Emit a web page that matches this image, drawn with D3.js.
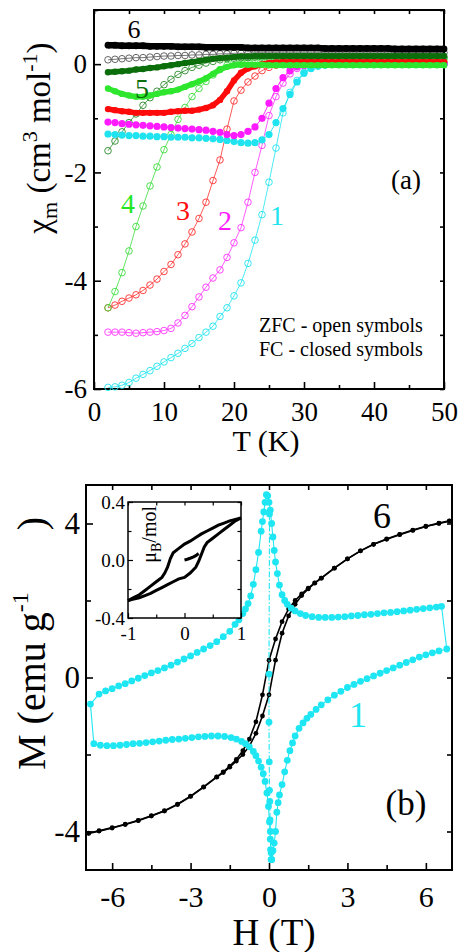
<!DOCTYPE html>
<html>
<head>
<meta charset="utf-8">
<script src="https://cdn.jsdelivr.net/npm/d3@7"></script>
<style>
  body { margin: 0; background: #fff; }
  text { font-family: "Liberation Serif", "Times New Roman", serif; }
</style>
</head>
<body>
<div class="canvas"></div>
<script>
// ---------- panel (a): chi_m vs T, ZFC (open) and FC (closed) ----------
const tempK = [2,3,4,5,6,7,8,9,10,11,12,13,14,15,16,17,18,19,20,21,22,23,24,25,26,27,28,29,30,
               31,32,33,34,35,36,37,38,39,40,41,42,43,44,45,46,47,48,49,50];

const fc6  = [0.35,0.35,0.34,0.34,0.34,0.34,0.33,0.33,0.33, 0.33,0.32,0.32,0.32,0.32,0.31,0.31,0.31,0.31,0.31,
              0.31,0.30,0.30,0.30,0.30,0.30,0.30,0.30,0.30,0.30, 0.30,0.30,0.29,0.29,0.29,0.29,0.29,0.29,0.29,0.29,
              0.29,0.29,0.28,0.28,0.28,0.28,0.28,0.28,0.28,0.28];
const zfc6 = [0.08,0.09,0.10,0.11,0.12,0.12,0.13,0.14,0.15, 0.15,0.16,0.16,0.17,0.17,0.18,0.18,0.19,0.19,0.20,
              0.20,0.20,0.21,0.21,0.21,0.21,0.21,0.21,0.21,0.21, 0.21,0.21,0.21,0.21,0.21,0.21,0.21,0.21,0.21,0.21,
              0.21,0.21,0.21,0.21,0.21,0.21,0.21,0.21,0.21,0.21];
const fc5  = [-0.15,-0.14,-0.13,-0.12,-0.10,-0.09,-0.07,-0.06,-0.04, -0.02,0.00,0.02,0.04,0.06,0.08,0.10,0.11,0.12,0.13,
              0.14,0.14,0.15,0.15,0.15,0.15,0.15,0.15,0.15,0.15, 0.15,0.15,0.15,0.15,0.15,0.15,0.15,0.15,0.15,0.15,
              0.15,0.15,0.15,0.15,0.15,0.15,0.15,0.15,0.15,0.15];
const zfc5 = [-1.60,-1.42,-1.25,-1.08,-0.92,-0.76,-0.62,-0.50,-0.38, -0.28,-0.19,-0.12,-0.06,-0.02,0.02,0.05,0.08,0.10,0.11,
              0.12,0.12,0.13,0.13,0.13,0.13,0.13,0.13,0.13,0.13, 0.13,0.13,0.13,0.13,0.13,0.13,0.13,0.13,0.13,0.13,
              0.13,0.13,0.13,0.13,0.13,0.13,0.13,0.13,0.13,0.13];
const fc4  = [-0.45,-0.50,-0.55,-0.58,-0.60,-0.60,-0.58,-0.55,-0.52, -0.50,-0.47,-0.42,-0.37,-0.32,-0.26,-0.18,-0.10,-0.05,-0.02,
              -0.01,-0.01,-0.01,-0.01,-0.02,-0.02,-0.02,-0.02,-0.02,-0.02, -0.02,-0.02,-0.02,-0.02,-0.02,-0.02,-0.02,-0.02,-0.02,-0.02,
              -0.02,-0.02,-0.02,-0.02,-0.02,-0.02,-0.02,-0.02,-0.02,-0.02];
const zfc4 = [-4.50,-4.20,-3.85,-3.45,-3.00,-2.62,-2.25,-1.90,-1.58, -1.30,-1.02,-0.80,-0.60,-0.45,-0.32,-0.20,-0.10,-0.02,0.03,
              0.05,0.07,0.08,0.09,0.10,0.10,0.10,0.10,0.10,0.10, 0.10,0.10,0.10,0.10,0.10,0.10,0.10,0.10,0.10,0.10,
              0.10,0.10,0.10,0.10,0.10,0.10,0.10,0.10,0.10,0.10];
const fc3  = [-0.83,-0.85,-0.87,-0.88,-0.90,-0.90,-0.90,-0.90,-0.90, -0.88,-0.87,-0.86,-0.86,-0.84,-0.81,-0.76,-0.66,-0.50,-0.30,
              -0.16,-0.08,-0.04,0.00,0.02,0.03,0.04,0.04,0.04,0.04, 0.04,0.04,0.04,0.04,0.04,0.04,0.04,0.04,0.04,0.04,
              0.04,0.04,0.04,0.04,0.04,0.04,0.04,0.04,0.04,0.04];
const zfc3 = [-4.50,-4.45,-4.38,-4.32,-4.26,-4.18,-4.08,-3.97,-3.83, -3.70,-3.52,-3.32,-3.10,-2.85,-2.55,-2.15,-1.77,-1.20,-0.68,
              -0.48,-0.33,-0.22,-0.12,-0.06,-0.02,0.01,0.03,0.04,0.04, 0.04,0.04,0.04,0.04,0.04,0.04,0.04,0.04,0.04,0.04,
              0.04,0.04,0.04,0.04,0.04,0.04,0.04,0.04,0.04,0.04];
const fc2  = [-1.07,-1.08,-1.10,-1.11,-1.12,-1.13,-1.14,-1.15,-1.16, -1.17,-1.18,-1.19,-1.20,-1.21,-1.22,-1.24,-1.26,-1.30,-1.32,
              -1.30,-1.24,-1.16,-1.00,-0.72,-0.45,-0.25,-0.12,-0.05,-0.02, 0.00,0.00,0.00,0.00,0.00,0.00,0.00,0.00,0.00,0.00,
              0.00,0.00,0.00,0.00,0.00,0.00,0.00,0.00,0.00,0.00];
const zfc2 = [-4.95,-4.95,-4.95,-4.96,-4.97,-4.96,-4.95,-4.94,-4.92, -4.88,-4.78,-4.64,-4.48,-4.30,-4.12,-3.95,-3.80,-3.57,-3.30,
              -3.02,-2.55,-2.00,-1.50,-0.95,-0.60,-0.35,-0.18,-0.08,-0.03, 0.00,0.01,0.02,0.02,0.02,0.02,0.02,0.02,0.02,0.02,
              0.02,0.02,0.02,0.02,0.02,0.02,0.02,0.02,0.02,0.02];
const fc1  = [-1.29,-1.30,-1.31,-1.32,-1.32,-1.33,-1.33,-1.34,-1.34, -1.35,-1.35,-1.35,-1.36,-1.36,-1.37,-1.38,-1.39,-1.41,-1.43,
              -1.45,-1.46,-1.45,-1.40,-1.30,-1.08,-0.82,-0.56,-0.33,-0.17, -0.08,-0.03,-0.01,0.00,0.00,0.00,0.00,0.00,0.00,0.00,
              0.00,0.00,0.00,0.00,0.00,0.00,0.00,0.00,0.00,0.00];
const zfc1 = [-5.97,-5.96,-5.93,-5.88,-5.80,-5.73,-5.66,-5.58,-5.50, -5.42,-5.34,-5.25,-5.16,-5.05,-4.95,-4.84,-4.66,-4.50,-4.28,
              -4.04,-3.68,-3.25,-2.78,-2.18,-1.55,-0.90,-0.52,-0.30,-0.15, -0.08,-0.04,-0.02,0.00,0.00,0.00,0.00,0.00,0.00,0.00,
              0.00,0.00,0.00,0.00,0.00,0.00,0.00,0.00,0.00,0.00];

const tTicks = [0,10,20,30,40,50];
const tMinor = [5,15,25,35,45];
const chiTicks = [-6,-4,-2,0];
const chiMinor = [-5,-3,-1,1];

// ---------- panel (b): M vs H loops ----------
const field6 = [-6.9,-6.5,-6,-5.5,-5,-4.5,-4,-3.5,-3,-2.5,-2,-1.75,-1.5,-1.25,-1,-0.75,-0.5,-0.25,0,
                0.25,0.5,0.75,1,1.25,1.5,1.75,2,2.5,3,3.5,4,4.5,5,5.5,6,6.5,6.9];
const m6Down = [-4.04,-3.98,-3.90,-3.81,-3.71,-3.59,-3.46,-3.29,-3.08,-2.84,-2.58,-2.45,-2.30,-2.13,-1.90,-1.60,-1.15,-0.45,0.45,
                1.00,1.45,1.78,2.00,2.17,2.32,2.46,2.58,2.84,3.08,3.29,3.46,3.60,3.72,3.83,3.93,4.01,4.07];
const m6Up   = [-4.05,-3.99,-3.91,-3.82,-3.72,-3.60,-3.47,-3.30,-3.09,-2.85,-2.59,-2.47,-2.33,-2.17,-2.00,-1.78,-1.45,-1.00,-0.45,
                0.45,1.15,1.60,1.90,2.13,2.30,2.45,2.58,2.84,3.08,3.29,3.46,3.59,3.71,3.82,3.92,4.00,4.06];

const hUpR = [0.1,0.15,0.2,0.25,0.3,0.35,0.4,0.5,0.6,0.7,0.8,0.9,1.0,1.15,1.3,1.45,1.6,1.8,
              2.0,2.25,2.5,2.75,3.0,3.25,3.5,3.75,4.0,4.25,4.5,4.75,5.0,5.25,5.5,5.75,6.0,6.25,6.5,6.8];
const mUpR = [-4.73,-4.50,-4.30,-4.00,-3.50,-3.25,-3.05,-2.78,-2.45,-2.15,-1.90,-1.70,-1.52,-1.32,-1.18,-1.06,-0.96,-0.83,
              -0.71,-0.58,-0.46,-0.36,-0.26,-0.18,-0.10,-0.03,0.04,0.11,0.18,0.25,0.32,0.39,0.46,0.53,0.59,0.64,0.69,0.74];
const hDownR = [6.6,6.4,6.15,5.9,5.65,5.4,5.15,4.9,4.65,4.4,4.15,3.9,3.65,3.4,3.15,2.9,2.65,2.4,2.15,1.9,1.65,1.4,
                1.2,1.0,0.85,0.7,0.6,0.5,0.4,0.32,0.25,0.2,0.15,0.1,0.05,0.0,-0.05];
const mDownR = [1.85,1.83,1.81,1.79,1.77,1.75,1.73,1.71,1.69,1.68,1.66,1.64,1.63,1.61,1.60,1.58,1.57,1.56,1.56,1.56,1.58,1.61,
                1.66,1.73,1.80,1.90,2.00,2.15,2.40,2.70,3.00,3.30,3.65,4.00,4.35,4.55,4.72];
const hDownL = [-0.1,-0.15,-0.2,-0.25,-0.3,-0.4,-0.5,-0.6,-0.7,-0.8,-0.9,-1.0,-1.15,-1.3,-1.5,
                -1.75,-2.0,-2.25,-2.5,-2.75,-3.0,-3.25,-3.5,-3.75,-4.0,-4.25,-4.5,-4.75,-5.0,-5.25,-5.5,-5.75,-6.0,-6.25,-6.5,-6.83];
const mDownL = [4.75,4.55,4.30,4.05,3.80,3.25,2.80,2.42,2.12,1.92,1.78,1.66,1.50,1.38,1.20,
                1.06,0.93,0.83,0.74,0.65,0.56,0.48,0.40,0.32,0.25,0.18,0.12,0.05,-0.02,-0.09,-0.16,-0.22,-0.29,-0.35,-0.43,-0.69];
const hUpL = [-6.7,-6.45,-6.2,-5.95,-5.7,-5.45,-5.2,-4.95,-4.7,-4.45,-4.2,-3.95,-3.7,-3.45,-3.2,-2.95,-2.7,-2.45,-2.2,-1.95,-1.7,-1.45,
              -1.25,-1.05,-0.9,-0.75,-0.6,-0.5,-0.4,-0.3,-0.22,-0.15,-0.08,-0.02,0.02,0.05,0.08];
const mUpL = [-1.72,-1.76,-1.77,-1.77,-1.76,-1.74,-1.72,-1.71,-1.69,-1.67,-1.65,-1.63,-1.61,-1.60,-1.58,-1.56,-1.54,-1.53,-1.52,-1.52,-1.53,-1.56,
              -1.60,-1.66,-1.72,-1.80,-1.92,-2.03,-2.17,-2.33,-2.50,-2.70,-3.00,-3.35,-3.75,-4.20,-4.55];
const hZero = [0.02,0.0,0.0,0.01,0.02,0.03,0.04,0.05,0.06,0.08];
const mZero = [4.25,0.09,-1.16,-2.19,-2.93,-3.22,-3.70,-4.00,-4.47,-4.73];

const hTicks = [-6,-3,0,3,6];
const hMinor = [-4.5,-1.5,1.5,4.5];
const mTicks = [-4,0,4];
const mMinor = [-2,2];

// inset: muB/mol vs H
const insetHDown = [1.0,0.9,0.8,0.7,0.6,0.5,0.4,0.3,0.2,0.1,0.0,-0.1,-0.2,-0.25,-0.3,-0.35,-0.4,-0.5,-0.6,-0.7,-0.8,-0.9,-1.0];
const insetMDown = [0.29,0.28,0.27,0.255,0.24,0.22,0.20,0.18,0.155,0.13,0.11,0.08,0.05,0.01,-0.05,-0.09,-0.12,-0.15,-0.18,-0.21,-0.24,-0.26,-0.28];
const insetHUp   = [-1.0,-0.9,-0.8,-0.7,-0.6,-0.5,-0.4,-0.3,-0.2,-0.1,0.0,0.1,0.2,0.25,0.3,0.35,0.4,0.5,0.6,0.7,0.8,0.9,1.0];
const insetMUp   = [-0.28,-0.27,-0.26,-0.245,-0.23,-0.21,-0.19,-0.17,-0.15,-0.13,-0.12,-0.09,-0.05,-0.01,0.04,0.09,0.12,0.15,0.18,0.21,0.24,0.27,0.29];
const insetHVirgin = [0,0.05,0.1,0.15,0.2,0.25];
const insetMVirgin = [0,0.005,0.012,0.02,0.03,0.045];

const insetHTicks = [-1,0,1];
const insetHMinor = [-0.5,0.5];
const insetMTicks = [-0.4,0,0.4];
const insetMMinor = [-0.2,0.2];

// ---------- drawing ----------
const svg = d3.select('.canvas').append('svg')
    .attr('width', 463)
    .attr('height', 952)

const pair = (xs, ys) => xs.map((d, i) => ({x: d, y: ys[i]}))

function drawFrame(x, y, o) {
    const g = svg.append('g')
    const [x0, x1] = x.range()
    const [y0, y1] = y.range()
    if (o.fill) {
        g.append('rect').attr('x', x0).attr('y', y1)
            .attr('width', x1 - x0).attr('height', y0 - y1).attr('fill', '#fff')
    }
    g.append('g').attr('transform', `translate(0,${y0})`)
        .call(d3.axisBottom(x).tickValues(o.xMajor).tickSize(-o.tick).tickPadding(o.xPad).tickFormat(o.xFmt))
        .selectAll('text').attr('font-size', o.xFs)
    g.append('g').attr('transform', `translate(0,${y0})`)
        .call(d3.axisBottom(x).tickValues(o.xMinor).tickSize(-o.minor).tickFormat(''))
    g.append('g').attr('transform', `translate(0,${y1})`)
        .call(d3.axisTop(x).tickValues(o.xMajor.concat(o.xMinor)).tickSize(-o.minor).tickFormat(''))
    g.append('g').attr('transform', `translate(${x0},0)`)
        .call(d3.axisLeft(y).tickValues(o.yMajor).tickSize(-o.tick).tickPadding(o.yPad).tickFormat(o.yFmt))
        .selectAll('text').attr('font-size', o.yFs)
    g.append('g').attr('transform', `translate(${x0},0)`)
        .call(d3.axisLeft(y).tickValues(o.yMinor).tickSize(-o.minor).tickFormat(''))
    g.append('g').attr('transform', `translate(${x1},0)`)
        .call(d3.axisRight(y).tickValues(o.yMajor.concat(o.yMinor)).tickSize(-o.minor).tickFormat(''))
    g.selectAll('.domain').remove()
    g.selectAll('.tick line').attr('stroke', '#000').attr('stroke-width', o.tw)
    g.selectAll('text').attr('font-family', '"Liberation Serif", serif').attr('fill', '#000')
    g.append('rect').attr('x', x0).attr('y', y1)
        .attr('width', x1 - x0).attr('height', y0 - y1)
        .attr('fill', 'none').attr('stroke', '#000').attr('stroke-width', o.sw)
    return g
}

function drawSeries(x, y, pts, s) {
    const line = d3.line().x(d => x(d.x)).y(d => y(d.y))
    svg.append('path').datum(pts)
        .attr('d', line)
        .attr('fill', 'none')
        .attr('stroke', s.color)
        .attr('stroke-width', s.lw)
        .attr('stroke-dasharray', s.dash || null)
    if (s.r) {
        svg.append('g').selectAll('circle')
            .data(pts)
            .enter()
                .append('circle')
                .attr('cx', d => x(d.x))
                .attr('cy', d => y(d.y))
                .attr('r', s.r)
                .attr('fill', s.open ? 'none' : s.color)
                .attr('stroke', s.color)
                .attr('stroke-width', s.open ? 0.9 : 0)
    }
}

function label(xp, yp, txt, size, color, anchor) {
    svg.append('text').attr('x', xp).attr('y', yp)
        .attr('font-size', size).attr('fill', color || '#000')
        .attr('text-anchor', anchor || 'middle')
        .text(txt)
}

// ----- (a) -----
const xA = d3.scaleLinear().domain([0, 50]).range([94, 444])
const yA = d3.scaleLinear().domain([-6, 1]).range([389, 10])

drawFrame(xA, yA, {
    xMajor: tTicks, xMinor: tMinor, yMajor: chiTicks, yMinor: chiMinor,
    tick: 7, minor: 4, xPad: 13, yPad: 7, xFs: 27, yFs: 27, tw: 1.6, sw: 2,
    xFmt: d => String(d), yFmt: d => String(d)
})

const seriesA = [
    {vals: zfc1, color: '#1fe3ef', open: true,  r: 3.3, lw: 0.8},
    {vals: zfc2, color: '#ff33ff', open: true,  r: 3.3, lw: 0.8},
    {vals: zfc3, color: '#ff3030', open: true,  r: 3.3, lw: 0.8},
    {vals: zfc4, color: '#3cdc3c', open: true,  r: 3.3, lw: 0.8},
    {vals: zfc5, color: '#2a8a2a', open: true,  r: 3.3, lw: 0.8},
    {vals: zfc6, color: '#555555', open: true,  r: 3.3, lw: 0.8},
    {vals: fc1,  color: '#1fe3ef', open: false, r: 3.6, lw: 0.9},
    {vals: fc2,  color: '#ff1aff', open: false, r: 3.6, lw: 0.9},
    {vals: fc3,  color: '#ff0a0a', open: false, r: 3.2, lw: 5.5},
    {vals: fc4,  color: '#2ee62e', open: false, r: 3.2, lw: 5.5},
    {vals: fc5,  color: '#0b6e0b', open: false, r: 3.2, lw: 5.5},
    {vals: fc6,  color: '#000000', open: false, r: 3.4, lw: 6.5}
]
seriesA.forEach(s => drawSeries(xA, yA, pair(tempK, s.vals), s))

label(134, 38, '6', 26)
label(142, 98, '5', 28, '#0b6e0b')
label(128, 213, '4', 28, '#22e622')
label(183, 220, '3', 28, '#ff0a0a')
label(225, 230, '2', 28, '#ff1aff')
label(277, 225, '1', 28, '#1fe3ef')
label(406, 189, '(a)', 27)
label(259, 332, 'ZFC - open symbols', 20, '#000', 'start')
label(259, 356, 'FC - closed symbols', 20, '#000', 'start')
label(266, 451, 'T (K)', 30)

const yTitleA = svg.append('text')
    .attr('transform', 'translate(50,138) rotate(-90)')
    .attr('text-anchor', 'middle').attr('font-size', 33)
yTitleA.append('tspan').text('χ')
yTitleA.append('tspan').attr('font-size', 22).attr('dy', 7).text('m')
yTitleA.append('tspan').attr('dy', -7).text(' (cm')
yTitleA.append('tspan').attr('font-size', 22).attr('dy', -13).text('3')
yTitleA.append('tspan').attr('dy', 13).text(' mol')
yTitleA.append('tspan').attr('font-size', 22).attr('dy', -13).text('-1')
yTitleA.append('tspan').attr('dy', 13).text(')')

// ----- (b) -----
const xB = d3.scaleLinear().domain([-7, 7]).range([86, 452])
const yB = d3.scaleLinear().domain([-5, 5]).range([870, 485])

drawFrame(xB, yB, {
    xMajor: hTicks, xMinor: hMinor, yMajor: mTicks, yMinor: mMinor,
    tick: 7, minor: 5, xPad: 16, yPad: 6, xFs: 30, yFs: 31, tw: 1.6, sw: 2,
    xFmt: d => String(d), yFmt: d => String(d)
})

const cyan = '#1ee6f2'
drawSeries(xB, yB, pair(field6, m6Down), {color: '#000', r: 2.4, lw: 1.6})
drawSeries(xB, yB, pair(field6, m6Up), {color: '#000', r: 2.4, lw: 1.6})
const cyanLoop = pair(hUpR, mUpR).concat(pair(hDownR, mDownR), pair(hDownL, mDownL), pair(hUpL, mUpL), pair(hUpR.slice(0, 1), mUpR.slice(0, 1)))
drawSeries(xB, yB, cyanLoop, {color: cyan, r: 3.4, lw: 1.1})
drawSeries(xB, yB, pair(hZero, mZero), {color: cyan, r: 3.4, lw: 1.1, dash: '6,2,1.5,2'})

// inset
const xI = d3.scaleLinear().domain([-1, 1]).range([128, 241])
const yI = d3.scaleLinear().domain([-0.4, 0.4]).range([618, 502])
drawFrame(xI, yI, {
    xMajor: insetHTicks, xMinor: insetHMinor, yMajor: insetMTicks, yMinor: insetMMinor,
    tick: 5, minor: 3.5, xPad: 9, yPad: 3, xFs: 19, yFs: 19, tw: 1.2, sw: 1.5, fill: true,
    xFmt: d => String(d), yFmt: d => d.toFixed(1)
})
drawSeries(xI, yI, pair(insetHDown, insetMDown), {color: '#000', lw: 3})
drawSeries(xI, yI, pair(insetHUp, insetMUp), {color: '#000', lw: 3})
drawSeries(xI, yI, pair(insetHVirgin, insetMVirgin), {color: '#000', lw: 3})

const yTitleI = svg.append('text')
    .attr('transform', 'translate(156,506) rotate(-90)')
    .attr('text-anchor', 'end').attr('font-size', 20)
yTitleI.append('tspan').text('μ')
yTitleI.append('tspan').attr('font-size', 14).attr('dy', 5).text('B')
yTitleI.append('tspan').attr('dy', -5).text('/mol')

label(382, 528, '6', 36)
label(358, 727, '1', 36, cyan)
label(406, 815, '(b)', 35)
label(274, 945, 'H (T)', 37)

const yTitleB = svg.append('text')
    .attr('transform', 'translate(45,770) rotate(-90)')
    .attr('text-anchor', 'start').attr('font-size', 40)
yTitleB.append('tspan').text('M (emu g')
yTitleB.append('tspan').attr('font-size', 24).attr('dy', -17).text('-1')
yTitleB.append('tspan').attr('dy', 17).attr('dx', 62).text(')')
</script>
</body>
</html>
